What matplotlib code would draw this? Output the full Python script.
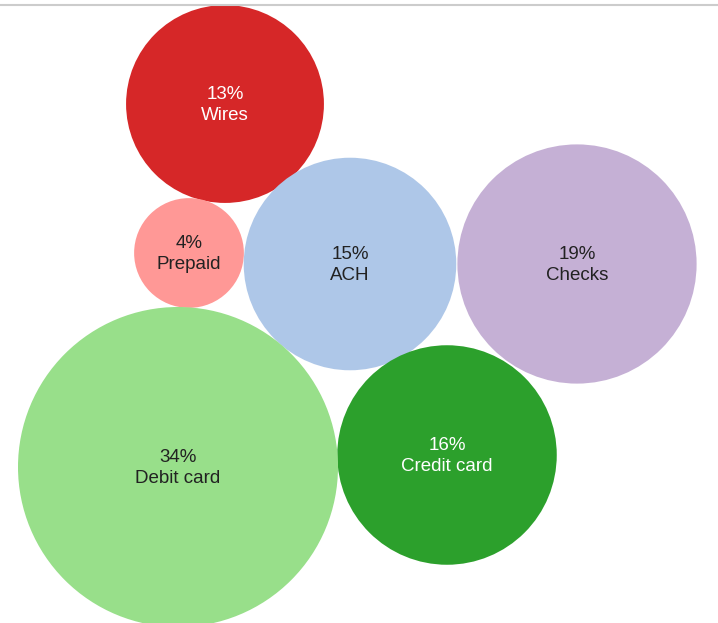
import matplotlib
matplotlib.use("Agg")
import matplotlib.pyplot as plt
from matplotlib.patches import Circle
import numpy as np

plt.rcParams['font.family'] = ['Liberation Sans', 'DejaVu Sans']

categories = ["Wires", "Prepaid", "ACH", "Checks", "Credit card", "Debit card"]
shares = [13, 4, 15, 19, 16, 34]
center_x = [225, 189, 350, 577, 447, 178]
center_y = [104, 253, 264, 264, 455, 467]
colors = ["#d62728", "#ff9896", "#aec7e8", "#c5b0d5", "#2ca02c", "#98df8a"]
text_colors = ["white", "#222222", "#222222", "#222222", "white", "#222222"]

W, H = 718, 623
fig = plt.figure(figsize=(W / 100, H / 100), dpi=100)
ax = fig.add_axes([0, 0, 1, 1])
ax.set_xlim(0, W)
ax.set_ylim(H, 0)
ax.set_aspect('equal')
ax.axis('off')

scale = 160 / np.sqrt(34)
for cat, p, x, y, c, tc in zip(categories, shares, center_x, center_y, colors, text_colors):
    r = scale * np.sqrt(p)
    ax.add_patch(Circle((x, y), r, facecolor=c, edgecolor='none'))
    ax.text(x, y + 1, f"{p}%\n{cat}", ha='center', va='center', color=tc,
            fontsize=13.5, linespacing=1.35)

ax.plot([0, W], [5, 5], color='#cccccc', lw=1.5, solid_capstyle='butt')

fig.savefig("out.png", dpi=100, facecolor='white')
